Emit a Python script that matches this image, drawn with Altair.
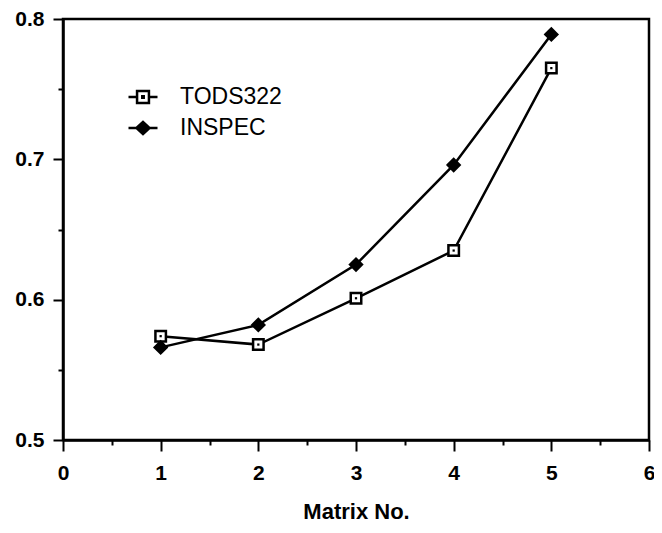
import altair as alt
import pandas as pd

# ---- data ----
matrix_no = [1, 2, 3, 4, 5]
tods322 = [0.574, 0.568, 0.601, 0.635, 0.765]
inspec = [0.566, 0.582, 0.625, 0.696, 0.789]
series_names = ["TODS322", "INSPEC"]
x_tick_values = [0, 0.5, 1, 1.5, 2, 2.5, 3, 3.5, 4, 4.5, 5, 5.5, 6]
y_tick_values = [0.5, 0.55, 0.6, 0.65, 0.7, 0.75, 0.8]
x_title = "Matrix No."

FONT = "Liberation Sans"

df_t = pd.DataFrame({"matrix": matrix_no, "value": tods322, "series": series_names[0]})
df_i = pd.DataFrame({"matrix": matrix_no, "value": inspec, "series": series_names[1]})

x_axis = alt.Axis(
    values=x_tick_values,
    title=x_title,
    grid=False,
    tickSize={"condition": {"test": "abs(datum.value - round(datum.value)) < 0.001", "value": 11}, "value": 5},
    labelExpr="abs(datum.value - round(datum.value)) < 0.001 ? format(datum.value, 'd') : ''",
    labelFont=FONT, labelFontSize=21, labelFontWeight="bold", labelColor="black",
    labelPadding=11, labelFlush=False, labelOverlap=False,
    titleFont=FONT, titleFontSize=22, titleFontWeight="bold", titleColor="black",
    titlePadding=18,
    domainColor="black", domainWidth=2.5, tickColor="black", tickWidth=2,
)
y_axis = alt.Axis(
    values=y_tick_values,
    title=None,
    grid=False,
    tickSize={"condition": {"test": "abs(datum.value*10 - round(datum.value*10)) < 0.001", "value": 10}, "value": 5},
    labelExpr="abs(datum.value*10 - round(datum.value*10)) < 0.001 ? format(datum.value, '.1f') : ''",
    labelFont=FONT, labelFontSize=21, labelFontWeight="bold", labelColor="black",
    labelPadding=9, labelFlush=False, labelOverlap=False,
    domainColor="black", domainWidth=2.5, tickColor="black", tickWidth=2,
)

x_enc = alt.X("matrix:Q", scale=alt.Scale(domain=[0, 6], nice=False, zero=False), axis=x_axis)
y_enc = alt.Y("value:Q", scale=alt.Scale(domain=[0.5, 0.8], nice=False, zero=False), axis=y_axis)

TODS_PATH = "M-1,0H-0.41M0.41,0H1M-0.41,-0.41H0.41V0.41H-0.41ZM-0.05,-0.05H0.05V0.05H-0.05Z"
INSPEC_PATH = "M-1,0H-0.45M0.45,0H1M-0.45,0L0,-0.42L0.45,0L0,0.42Z"

def legend(path, ly):
    return alt.Legend(
        title=None, orient="none", legendX=64, legendY=ly, padding=0,
        symbolType=path, symbolSize=841, symbolStrokeColor="black", symbolStrokeWidth=2.5,
        labelFont=FONT, labelFontSize=23, labelColor="black", labelOffset=21,
    )

line_t = alt.Chart(df_t).mark_line(color="black", strokeWidth=2.5).encode(x=x_enc, y=y_enc)
line_i = alt.Chart(df_i).mark_line(color="black", strokeWidth=2.5).encode(x=x_enc, y=y_enc)

pts_t = alt.Chart(df_t).mark_point(
    shape="square", filled=True, size=110, stroke="black", strokeWidth=2.5, opacity=1
).encode(
    x=x_enc, y=y_enc,
    fill=alt.Fill("series:N", scale=alt.Scale(domain=[series_names[0]], range=["white"]),
                  legend=legend(TODS_PATH, 62)),
)
dot_t = alt.Chart(df_t).mark_point(
    shape="square", filled=True, size=5, color="black", opacity=1
).encode(x=x_enc, y=y_enc)

pts_i = alt.Chart(df_i).mark_point(
    shape="diamond", filled=True, size=140, stroke="black", strokeWidth=2.5, opacity=1
).encode(
    x=x_enc, y=y_enc,
    fill=alt.Fill("series:N", scale=alt.Scale(domain=[series_names[1]], range=["black"]),
                  legend=legend(INSPEC_PATH, 93)),
)

chart = alt.layer(line_t, line_i, pts_t, dot_t, pts_i).resolve_scale(
    fill="independent"
).properties(
    width=586, height=421,
    autosize=alt.AutoSizeParams(type="none"),
    padding={"left": 55, "top": 11, "right": 5, "bottom": 84},
    background="white",
).configure_view(
    stroke="black", strokeWidth=2.5
)

chart.save("out.html", embed_options={"renderer": "svg", "actions": False})
